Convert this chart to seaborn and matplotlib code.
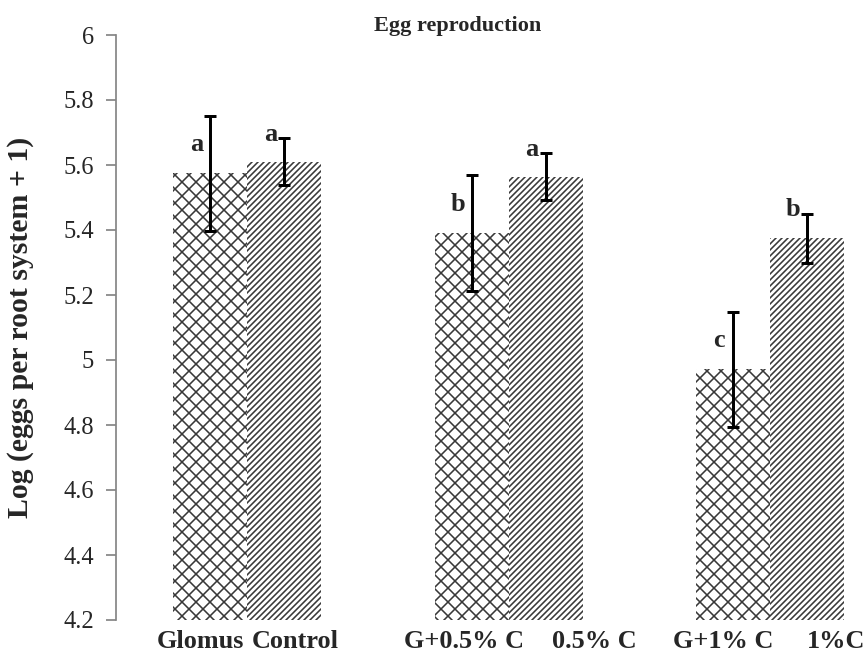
import numpy as np
import pandas as pd
import seaborn as sns
import matplotlib.pyplot as plt

# values
groups = ["Glomus vs Control", "0.5% C", "1% C"]
treatments = ["with Glomus", "without Glomus"]
tick_labels = ["Glomus", "Control", "G+0.5% C", "0.5% C", "G+1% C", "1%C"]
glomus_means = [5.574, 5.390, 4.971]
plain_means = [5.610, 5.564, 5.374]
glomus_err = [0.178, 0.178, 0.178]
plain_err = [0.072, 0.072, 0.076]
glomus_letters = ["a", "b", "c"]
plain_letters = ["a", "a", "b"]

df = pd.DataFrame({
    "group": groups * 2,
    "treatment": [treatments[0]] * 3 + [treatments[1]] * 3,
    "value": glomus_means + plain_means,
})

sns.set_style("white")
plt.rcParams["font.family"] = ["Liberation Serif", "DejaVu Serif"]
plt.rcParams["hatch.linewidth"] = 0.9

dpi = 126
fig = plt.figure(figsize=(866 / dpi, 655 / dpi), dpi=dpi)
ax = fig.add_axes([116 / 866, 1 - 620 / 655, 750 / 866, 585 / 655])

width = 0.566
sns.barplot(data=df, x="group", y="value", hue="treatment", order=groups,
            hue_order=treatments, width=width, gap=0, ax=ax, legend=False,
            palette=["white", "white"], errorbar=None)

half = width / 4
for p in ax.patches:
    p.set_linewidth(0)
    p.set_edgecolor("#383838")
    cx = p.get_x() + p.get_width() / 2
    p.set_hatch("xxx" if (cx % 1) > 0.5 else "///////")

x = np.arange(len(groups))
xg = x - half
xp = x + half
ax.errorbar(xg, glomus_means, yerr=glomus_err, fmt="none", ecolor="black",
            elinewidth=1.7, capsize=3.2, capthick=1.7)
ax.errorbar(xp, plain_means, yerr=plain_err, fmt="none", ecolor="black",
            elinewidth=1.7, capsize=3.2, capthick=1.7)

for i in range(len(groups)):
    ax.text(xg[i] - 0.052, glomus_means[i] + glomus_err[i] * 0.5, glomus_letters[i],
            ha="center", va="center", fontsize=15, fontweight="bold")
    ax.text(xp[i] - 0.052, plain_means[i] + plain_err[i] + 0.012, plain_letters[i],
            ha="center", va="center", fontsize=15, fontweight="bold")

ax.set_ylim(4.2, 6.0)
ax.set_yticks(np.arange(4.2, 6.01, 0.2))
ax.set_yticklabels(["4.2", "4.4", "4.6", "4.8", "5", "5.2", "5.4", "5.6", "5.8", "6"])
ax.set_xlim(-0.501, 2.367)

# label placement as in the original (not centred under the bars)
label_shift = [-0.038, 0.042, -0.027, 0.187, -0.038, 0.111]
pos = np.ravel(np.column_stack([xg, xp])) + np.array(label_shift)
ax.set_xticks(pos)
ax.set_xticklabels(tick_labels, fontsize=15, fontweight="bold")
ax.tick_params(axis="x", length=0, pad=6)
ax.tick_params(axis="y", length=6, width=1, color="#868686", labelsize=14, pad=6.5,
               left=True, direction="out")

for s in ["top", "right", "bottom"]:
    ax.spines[s].set_visible(False)
ax.spines["left"].set_color("#868686")
ax.spines["left"].set_linewidth(1)

ax.set_xlabel("")
ax.set_ylabel("Log (eggs per root system + 1)", fontsize=17, fontweight="bold")
ax.yaxis.set_label_coords(-0.109, 0.5)
fig.text(458 / 866, 1 - 26 / 655, "Egg reproduction", ha="center", va="center",
         fontsize=12.7, fontweight="bold")

fig.savefig("out.png", dpi=dpi)
